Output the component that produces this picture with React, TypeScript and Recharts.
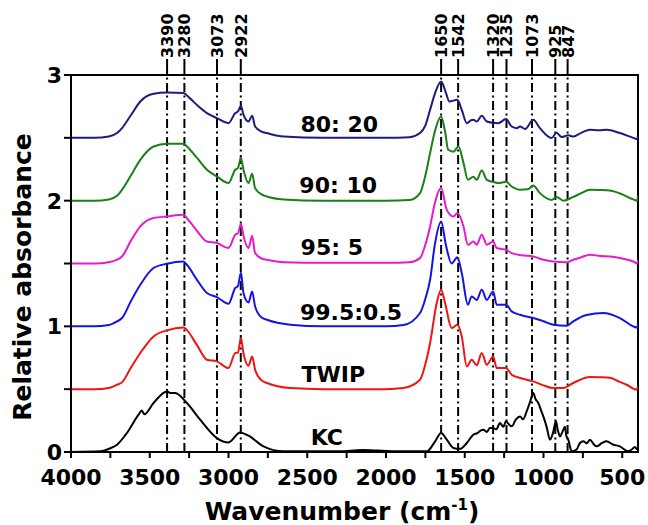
import React from "react";
import { LineChart, Line, XAxis, YAxis, ReferenceLine, ReferenceArea, ReferenceDot } from "recharts";

// FTIR spectra, stacked with 0.5 offsets (wavenumber, relative absorbance)
const wavenumberTicks = [4000, 3750, 3500, 3250, 3000, 2750, 2500, 2250, 2000, 1750, 1500, 1250, 1000, 750, 500];
const absorbanceTicks = [0, 0.5, 1, 1.5, 2, 2.5, 3];
const bandPositions = [3390, 3280, 3073, 2922, 1650, 1542, 1320, 1235, 1073, 925, 847];

const spec8020 = [
  [4000, 2.5], [3850, 2.5], [3760, 2.51], [3708, 2.538], [3676, 2.578], [3620, 2.68], [3560, 2.789], [3476, 2.85],
  [3391, 2.861], [3286, 2.856], [3250, 2.82], [3190, 2.75], [3137, 2.697], [3074, 2.657], [3000, 2.617], [2957, 2.697],
  [2940, 2.71], [2921, 2.755], [2905, 2.684], [2873, 2.63], [2850, 2.676], [2831, 2.59], [2790, 2.55], [2756, 2.538],
  [2650, 2.51], [2400, 2.5], [2000, 2.5], [1850, 2.505], [1784, 2.538], [1750, 2.6], [1720, 2.723], [1690, 2.85],
  [1650, 2.948], [1620, 2.86], [1598, 2.789], [1547, 2.803], [1519, 2.723], [1487, 2.617], [1460, 2.64], [1445, 2.643],
  [1424, 2.63], [1392, 2.675], [1360, 2.63], [1320, 2.62], [1287, 2.617], [1238, 2.649], [1202, 2.59], [1170, 2.577],
  [1149, 2.59], [1117, 2.57], [1065, 2.643], [1023, 2.577], [949, 2.498], [917, 2.54], [885, 2.506], [843, 2.52],
  [811, 2.51], [760, 2.54], [705, 2.565], [650, 2.56], [599, 2.565], [515, 2.538], [430, 2.5], [405, 2.49], [400, 2.52],
];

const spec9010 = [
  [4000, 2.0], [3850, 2.0], [3760, 2.01], [3708, 2.039], [3676, 2.087], [3620, 2.2], [3560, 2.325], [3476, 2.431],
  [3391, 2.453], [3286, 2.453], [3264, 2.431], [3200, 2.34], [3137, 2.246], [3074, 2.193], [3000, 2.14], [2957, 2.246],
  [2940, 2.26], [2921, 2.339], [2905, 2.246], [2873, 2.14], [2850, 2.214], [2831, 2.1], [2790, 2.05], [2756, 2.033],
  [2650, 2.01], [2400, 2.0], [2000, 2.0], [1850, 2.005], [1784, 2.06], [1750, 2.2], [1720, 2.379], [1690, 2.55],
  [1650, 2.67], [1625, 2.55], [1605, 2.405], [1572, 2.39], [1540, 2.431], [1508, 2.3], [1480, 2.166], [1445, 2.19],
  [1424, 2.166], [1392, 2.24], [1360, 2.166], [1320, 2.15], [1287, 2.14], [1238, 2.15], [1202, 2.113], [1149, 2.087],
  [1100, 2.09], [1065, 2.12], [1023, 2.06], [949, 2.006], [917, 2.03], [874, 2.0], [811, 2.03], [760, 2.06],
  [705, 2.087], [640, 2.085], [578, 2.08], [500, 2.05], [430, 2.01], [405, 2.0], [400, 2.04],
];

const spec955 = [
  [4000, 1.5], [3850, 1.5], [3760, 1.51], [3708, 1.53], [3676, 1.556], [3620, 1.68], [3560, 1.795], [3476, 1.862],
  [3391, 1.874], [3286, 1.888], [3264, 1.86], [3200, 1.76], [3137, 1.675], [3074, 1.663], [3000, 1.623], [2957, 1.729],
  [2940, 1.74], [2921, 1.816], [2905, 1.72], [2873, 1.623], [2850, 1.72], [2831, 1.583], [2790, 1.54], [2756, 1.53],
  [2650, 1.51], [2400, 1.505], [2000, 1.505], [1850, 1.51], [1784, 1.543], [1750, 1.65], [1720, 1.795], [1690, 1.98],
  [1650, 2.1], [1614, 1.927], [1572, 1.874], [1547, 1.901], [1508, 1.795], [1480, 1.649], [1445, 1.675], [1424, 1.65],
  [1392, 1.729], [1360, 1.65], [1320, 1.675], [1297, 1.623], [1238, 1.609], [1202, 1.583], [1140, 1.565], [1065, 1.556],
  [1000, 1.53], [938, 1.516], [853, 1.51], [811, 1.53], [760, 1.55], [705, 1.57], [640, 1.56], [578, 1.556],
  [500, 1.54], [430, 1.516], [405, 1.5], [400, 1.53],
];

const spec9955 = [
  [4000, 1.0], [3850, 1.0], [3760, 1.01], [3708, 1.039], [3676, 1.066], [3620, 1.2], [3560, 1.331], [3476, 1.464],
  [3391, 1.498], [3286, 1.516], [3264, 1.49], [3200, 1.37], [3137, 1.265], [3074, 1.233], [3000, 1.18], [2957, 1.305],
  [2940, 1.32], [2921, 1.429], [2905, 1.265], [2873, 1.19], [2850, 1.278], [2831, 1.158], [2790, 1.07], [2756, 1.052],
  [2608, 1.013], [2400, 1.0], [2000, 1.0], [1889, 1.01], [1784, 1.106], [1750, 1.22], [1720, 1.371], [1690, 1.65],
  [1650, 1.835], [1620, 1.65], [1583, 1.5], [1547, 1.55], [1519, 1.424], [1480, 1.172], [1456, 1.238], [1424, 1.21],
  [1392, 1.291], [1360, 1.21], [1320, 1.278], [1297, 1.172], [1238, 1.172], [1202, 1.119], [1149, 1.092], [1065, 1.066],
  [1000, 1.04], [938, 1.013], [853, 1.005], [811, 1.04], [726, 1.09], [620, 1.106], [515, 1.066], [430, 1.0],
  [405, 0.99], [400, 1.02],
];

const specTwip = [
  [4000, 0.5], [3850, 0.5], [3760, 0.51], [3708, 0.535], [3676, 0.554], [3620, 0.67], [3560, 0.788], [3476, 0.92],
  [3391, 0.968], [3286, 0.991], [3264, 0.97], [3200, 0.85], [3137, 0.734], [3074, 0.721], [3000, 0.668], [2957, 0.788],
  [2940, 0.79], [2921, 0.907], [2905, 0.786], [2873, 0.687], [2850, 0.76], [2831, 0.655], [2790, 0.57], [2756, 0.549],
  [2608, 0.509], [2400, 0.5], [2000, 0.5], [1889, 0.509], [1784, 0.575], [1750, 0.7], [1720, 0.867], [1678, 1.185],
  [1650, 1.291], [1625, 1.185], [1583, 0.986], [1547, 1.013], [1519, 0.92], [1487, 0.681], [1456, 0.734], [1424, 0.69],
  [1392, 0.788], [1360, 0.694], [1320, 0.76], [1297, 0.668], [1238, 0.668], [1202, 0.615], [1149, 0.589], [1065, 0.562],
  [1000, 0.53], [938, 0.509], [874, 0.509], [811, 0.549], [705, 0.597], [640, 0.595], [578, 0.59], [520, 0.56],
  [472, 0.535], [409, 0.496], [400, 0.52],
];

const specKc = [
  [4000, 0.0], [3814, 0.005], [3750, 0.03], [3708, 0.058], [3645, 0.151], [3571, 0.297], [3550, 0.33], [3535, 0.3],
  [3476, 0.39], [3391, 0.482], [3370, 0.47], [3338, 0.469], [3264, 0.39], [3180, 0.257], [3074, 0.111], [3000, 0.076],
  [2926, 0.156], [2873, 0.13], [2778, 0.045], [2651, 0.005], [2300, 0.005], [2150, 0.015], [2050, 0.012], [1900, 0.005],
  [1741, 0.005], [1688, 0.085], [1650, 0.151], [1614, 0.098], [1572, 0.032], [1530, 0.025], [1487, 0.072], [1445, 0.138],
  [1420, 0.15], [1400, 0.17], [1382, 0.177], [1360, 0.16], [1340, 0.19], [1320, 0.19], [1300, 0.18], [1276, 0.23],
  [1255, 0.2], [1238, 0.244], [1220, 0.22], [1202, 0.204], [1175, 0.26], [1149, 0.283], [1130, 0.26], [1107, 0.323],
  [1085, 0.4], [1065, 0.469], [1050, 0.42], [1033, 0.39], [1015, 0.33], [1001, 0.283], [980, 0.2], [959, 0.098],
  [940, 0.15], [921, 0.244], [910, 0.18], [895, 0.124], [880, 0.16], [864, 0.2], [855, 0.13], [843, 0.098],
  [821, 0.005], [790, 0.02], [770, 0.07], [747, 0.085], [725, 0.07], [705, 0.098], [680, 0.06], [663, 0.045],
  [630, 0.07], [599, 0.085], [560, 0.06], [515, 0.045], [462, 0.005], [440, 0.02], [420, 0.04], [405, 0.02], [400, 0.05],
];

const sampleNames = ["80: 20", "90: 10", "95: 5", "99.5:0.5", "TWIP", "KC"];
const sampleColors = ["#1c1c80", "#178017", "#e41ccc", "#1414e6", "#f01414", "#000000"];
const sampleSpectra = [spec8020, spec9010, spec955, spec9955, specTwip, specKc];
// where each sample name is written (right end of text, baseline)
const tagWavenumbers = [2050, 2057, 2146, 1898, 2133, 2273];
const tagAbsorbance = [2.548, 2.063, 1.569, 1.053, 0.56, 0.058];

const FONT = '"DejaVu Sans", "Liberation Sans", Arial, sans-serif';

const toRows = (pts: number[][]) => pts.map(([x, y]) => ({ x, y }));

const XTick = (props: any) => {
  const { x, y, payload } = props;
  if (payload.value % 500 !== 0) return <g />;
  return (
    <text x={x} y={y + 25} textAnchor="middle" fontFamily={FONT} fontWeight="bold" fontSize={22} fill="#000">
      {payload.value}
    </text>
  );
};

const YTick = (props: any) => {
  const { x, y, payload } = props;
  if (payload.value % 1 !== 0) return <g />;
  return (
    <text x={x} y={y} dy="0.36em" textAnchor="end" fontFamily={FONT} fontWeight="bold" fontSize={22} fill="#000">
      {payload.value}
    </text>
  );
};

const bandLabel = (p: any, band: number) => {
  const vb = p.viewBox || {};
  const x = vb.x;
  const top = vb.y;
  return (
    <g>
      <line x1={x} y1={top} x2={x} y2={top - 16} stroke="#000" strokeWidth={2} />
      <text
        transform={`translate(${x},${top - 17}) rotate(-90)`}
        dy="0.37em"
        textAnchor="start"
        fontFamily={FONT}
        fontWeight="bold"
        fontSize={16}
        fill="#000"
      >
        {band}
      </text>
    </g>
  );
};

const tagLabel = (p: any, text: string) => {
  const vb = p.viewBox || {};
  return (
    <text x={vb.x} y={vb.y} textAnchor="end" fontFamily={FONT} fontWeight="bold" fontSize={22} fill="#000">
      {text}
    </text>
  );
};

export default function App() {
  return (
    <div style={{ width: 648, height: 525, background: "#fff" }}>
      <style>{"body{margin:0}"}</style>
      <LineChart width={648} height={525} margin={{ top: 75, right: 10, bottom: 0, left: 0 }}>
        <XAxis
          dataKey="x"
          type="number"
          domain={[400, 4000]}
          reversed
          allowDataOverflow
          ticks={wavenumberTicks}
          interval={0}
          tick={XTick}
          tickSize={6}
          tickLine={{ stroke: "#000", strokeWidth: 2 }}
          axisLine={{ stroke: "#000", strokeWidth: 2 }}
          height={73}
          label={{
            content: () => (
              <text x={342} y={520} textAnchor="middle" fontFamily={FONT} fontWeight="bold" fontSize={25} fill="#000">
                Wavenumber (cm
                <tspan dy={-10} fontSize={15}>-1</tspan>
                <tspan dy={10}>)</tspan>
              </text>
            ),
          }}
        />
        <YAxis
          type="number"
          domain={[0, 3]}
          allowDataOverflow
          ticks={absorbanceTicks}
          interval={0}
          tick={YTick}
          tickSize={7}
          tickLine={{ stroke: "#000", strokeWidth: 2 }}
          axisLine={{ stroke: "#000", strokeWidth: 2 }}
          width={71}
          label={{
            content: () => (
              <text
                transform="translate(22,277) rotate(-90)"
                dy="0.36em"
                textAnchor="middle"
                fontFamily={FONT}
                fontWeight="bold"
                fontSize={25}
                fill="#000"
              >
                Relative absorbance
              </text>
            ),
          }}
        />
        <ReferenceArea x1={400} x2={4000} y1={0} y2={3} fill="none" stroke="#000" strokeWidth={2} ifOverflow="visible" />
        {bandPositions.map((b) => (
          <ReferenceLine
            key={b}
            x={b}
            stroke="#000"
            strokeWidth={2}
            strokeDasharray="9 3.5 2 3.5"
            label={{ content: (p: any) => bandLabel(p, b) }}
          />
        ))}
        {sampleSpectra.map((s, i) => (
          <Line
            key={sampleNames[i]}
            data={toRows(s)}
            dataKey="y"
            type="monotone"
            stroke={sampleColors[i]}
            strokeWidth={2}
            dot={false}
            activeDot={false}
            isAnimationActive={false}
          />
        ))}
        {sampleNames.map((n, i) => (
          <ReferenceDot
            key={n}
            x={tagWavenumbers[i]}
            y={tagAbsorbance[i]}
            r={0}
            fill="none"
            stroke="none"
            label={{ content: (p: any) => tagLabel(p, n) }}
          />
        ))}
      </LineChart>
    </div>
  );
}
